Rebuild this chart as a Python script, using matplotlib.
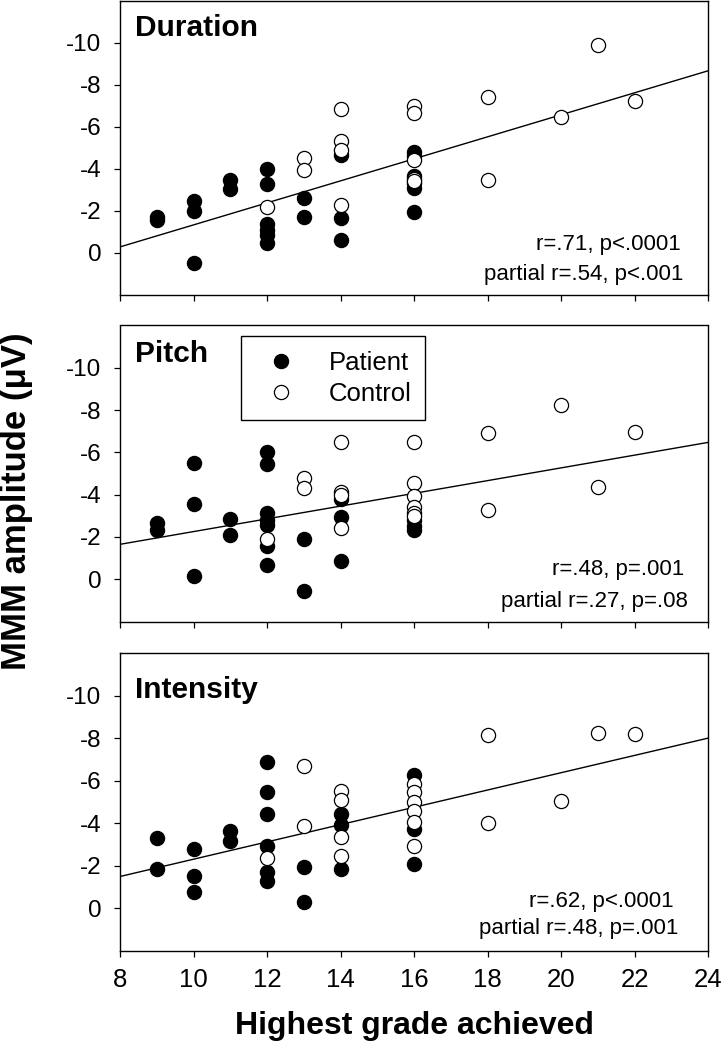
import matplotlib
matplotlib.use("Agg")
import matplotlib.pyplot as plt
import numpy as np

plt.rcParams['font.family'] = ['Liberation Sans', 'DejaVu Sans']

# ---------------- data ----------------
panel_titles = ["Duration", "Pitch", "Intensity"]

dur_pat_x = [9, 9, 10, 10, 10, 11, 11, 12, 12, 12, 12, 12, 12, 13, 13, 14, 14, 14, 16, 16, 16, 16, 16, 16]
dur_pat_y = [-1.70, -1.55, -2.48, -1.98, 0.52, -3.47, -3.03, -3.97, -3.28, -1.35, -1.10, -0.85, -0.47,
             -2.61, -1.70, -4.64, -1.67, -0.61, -4.80, -4.60, -3.64, -3.30, -3.08, -1.94]
dur_con_x = [12, 13, 13, 14, 14, 14, 14, 16, 16, 16, 16, 16, 18, 18, 20, 21, 22]
dur_con_y = [-2.19, -4.52, -3.94, -6.86, -5.34, -4.87, -2.25, -6.97, -6.67, -4.41, -3.50, -3.41,
             -7.41, -3.44, -6.47, -9.92, -7.21]

pit_pat_x = [9, 9, 10, 10, 10, 11, 11, 12, 12, 12, 12, 12, 12, 12, 13, 13, 14, 14, 14, 16, 16, 16]
pit_pat_y = [-2.65, -2.35, -5.50, -3.56, -0.16, -2.86, -2.08, -6.02, -5.44, -3.13, -2.81, -2.58, -1.59, -0.66,
             -1.91, 0.55, -3.78, -2.92, -0.86, -2.82, -2.51, -2.31]
pit_con_x = [12, 13, 13, 14, 14, 14, 14, 16, 16, 16, 16, 16, 16, 18, 18, 20, 21, 22]
pit_con_y = [-1.91, -4.81, -4.30, -6.48, -4.14, -3.98, -2.42, -6.48, -4.53, -3.94, -3.40, -3.13, -2.98,
             -6.90, -3.26, -8.26, -4.36, -6.94]

int_pat_x = [9, 9, 10, 10, 10, 11, 11, 12, 12, 12, 12, 12, 12, 13, 13, 14, 14, 14, 16, 16, 16]
int_pat_y = [-3.31, -1.86, -2.80, -1.50, -0.77, -3.63, -3.16, -6.89, -5.45, -4.44, -2.95, -1.70, -1.31,
             -1.94, -0.30, -4.44, -3.94, -1.86, -6.27, -3.74, -2.10]
int_con_x = [12, 13, 13, 14, 14, 14, 14, 16, 16, 16, 16, 16, 16, 18, 18, 20, 21, 22]
int_con_y = [-2.36, -6.70, -3.89, -5.53, -5.09, -3.34, -2.44, -5.85, -5.45, -4.98, -4.59, -4.05, -2.95,
             -8.15, -4.01, -5.05, -8.26, -8.18]

# regression lines (intercept, slope)
fit_intercept = [3.93, 0.76, 1.75]
fit_slope = [-0.525, -0.30125, -0.40625]

stats_line1 = ["r=.71, p<.0001", "r=.48, p=.001", "r=.62, p<.0001"]
stats_line2 = ["partial r=.54, p<.001", "partial r=.27, p=.08", "partial r=.48, p=.001"]

x_ticks = [8, 10, 12, 14, 16, 18, 20, 22, 24]
y_ticks = [-10, -8, -6, -4, -2, 0]
legend_labels = ["Patient", "Control"]

patients = [(dur_pat_x, dur_pat_y), (pit_pat_x, pit_pat_y), (int_pat_x, int_pat_y)]
controls = [(dur_con_x, dur_con_y), (pit_con_x, pit_con_y), (int_con_x, int_con_y)]

# ---------------- layout ----------------
W, H = 722, 1050
fig = plt.figure(figsize=(W / 100, H / 100), dpi=100)

left_px, right_px = 120, 708
panel_px = [(1, 294.5), (325.5, 621.5), (653, 951)]
title_y = [0.882, 0.878, 0.849]
stat_pos = [((0.954, 0.152), (0.958, 0.049)),
            ((0.959, 0.157), (0.966, 0.050)),
            ((0.942, 0.149), (0.950, 0.057))]

ms = 10.2
mew = 0.9
axes = []
for i in range(3):
    top, bot = panel_px[i]
    ax = fig.add_axes([left_px / W, 1 - bot / H, (right_px - left_px) / W, (bot - top) / H])
    axes.append(ax)
    px, py = patients[i]
    cx, cy = controls[i]
    hp, = ax.plot(px, py, 'o', ms=ms, mfc='black', mec='black', mew=mew, ls='none', zorder=3)
    hc, = ax.plot(cx, cy, 'o', ms=ms, mfc='white', mec='black', mew=mew, ls='none', zorder=4)
    xl = np.array([8, 24])
    ax.plot(xl, fit_intercept[i] + fit_slope[i] * xl, color='black', lw=1.0, zorder=2)

    ax.set_xlim(8, 24)
    ax.set_ylim(2, -12)
    ax.set_xticks(x_ticks)
    ax.set_yticks(y_ticks)
    ax.set_yticklabels([str(v) for v in y_ticks])
    ax.tick_params(axis='both', direction='out', length=4.5, width=0.9, color='black')
    ax.tick_params(axis='y', labelsize=17.5, pad=9)
    ax.tick_params(axis='x', labelsize=18.5, pad=8)
    if i < 2:
        ax.tick_params(axis='x', labelbottom=False)
    for s in ax.spines.values():
        s.set_linewidth(1.0)
        s.set_color('black')

    ax.text(0.025, title_y[i], panel_titles[i], transform=ax.transAxes, fontsize=21.5,
            fontweight='bold', ha='left', va='baseline')
    (x1, y1), (x2, y2) = stat_pos[i]
    ax.text(x1, y1, stats_line1[i], transform=ax.transAxes, fontsize=16, ha='right', va='baseline')
    ax.text(x2, y2, stats_line2[i], transform=ax.transAxes, fontsize=16, ha='right', va='baseline')

    if i == 1:
        leg = ax.legend([hp, hc], legend_labels, loc='upper left', bbox_to_anchor=(0.206, 0.963),
                        fontsize=18.5, frameon=True, fancybox=False, edgecolor='black',
                        framealpha=1, borderpad=0.55, handletextpad=0.85, handlelength=2.0,
                        labelspacing=0.3, borderaxespad=0)
        leg.get_frame().set_linewidth(1.0)

fig.text(0.023, 1 - 501.5 / H, "MMM amplitude (μV)", rotation=90, fontsize=25,
         fontweight='bold', ha='center', va='center')
fig.text((left_px + right_px) / 2 / W, 1 - 1034 / H, "Highest grade achieved", fontsize=23,
         fontweight='bold', ha='center', va='baseline')

fig.savefig("out.png", dpi=100)
